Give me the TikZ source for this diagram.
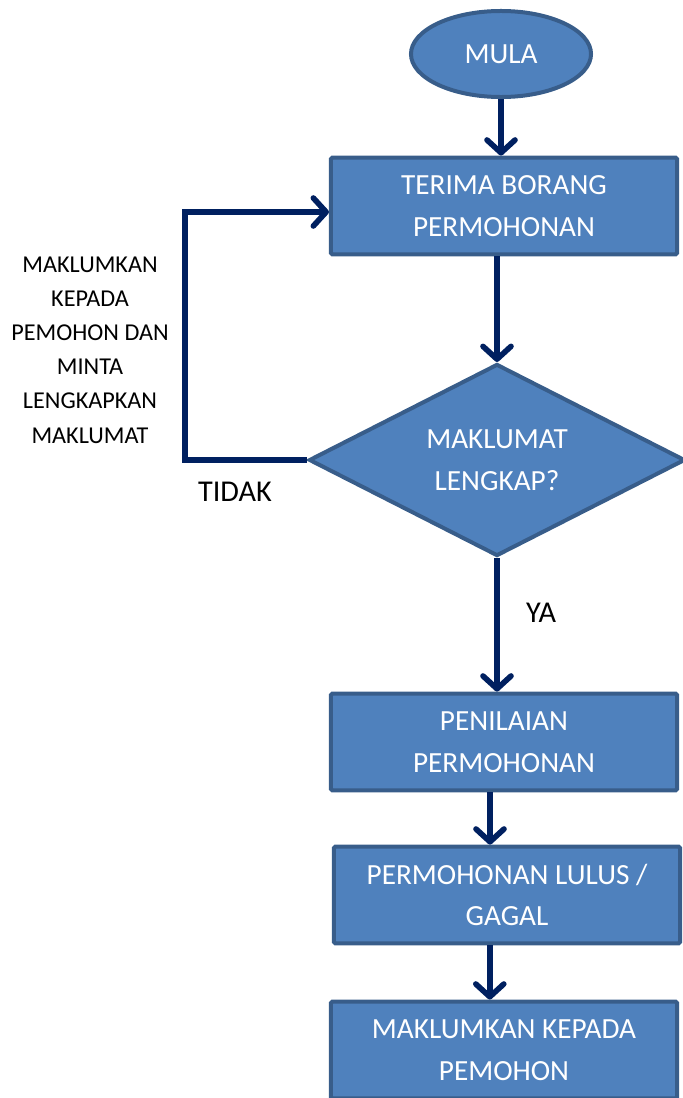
\documentclass[tikz,border=0pt]{standalone}
\usepackage{fontspec}
\setmainfont{Carlito}
\definecolor{BoxBlue}{RGB}{79, 129, 189}
\definecolor{BoxEdge}{RGB}{56, 93, 138}
\definecolor{ArrowNavy}{RGB}{0, 32, 96}
\usepackage{tikz}
\usetikzlibrary{arrows.meta, positioning, shapes.geometric, calc}

\begin{document}
\begin{tikzpicture}[x=0.025cm, y=-0.025cm,
    flowbox/.style={draw=BoxEdge, line width=0.1cm, fill=BoxBlue, text=white, rounded corners=1pt,
        minimum width=8.65cm, minimum height=2.42cm, align=center, inner sep=0pt,
        font=\fontsize{20.8}{29.5}\selectfont},
    flowarrow/.style={line width=0.14cm, ArrowNavy, -{Straight Barb[length=0.32cm, width=0.7cm, round]}}]
    \useasboundingbox (0,0) rectangle (683,1098);

    % Start and process boxes
    \node[ellipse, draw=BoxEdge, line width=0.1cm, fill=BoxBlue, text=white, minimum width=4.5cm,
        minimum height=2.15cm, font=\fontsize{20.8}{29.5}\selectfont] (mula) at (501,54) {MULA};
    \node[flowbox] (terima) at (504,206) {TERIMA BORANG\\PERMOHONAN};
    \node[diamond, draw=BoxEdge, line width=0.1cm, fill=BoxBlue, text=white, aspect=1.9, inner sep=0pt,
        minimum width=9.4cm, minimum height=4.8cm, align=center,
        font=\fontsize{20.8}{29.5}\selectfont] (lengkap) at (497,460) {MAKLUMAT\\LENGKAP?};
    \node[flowbox] (nilai) at (504,742) {PENILAIAN\\PERMOHONAN};
    \node[flowbox] (lulus) at (507,895) {PERMOHONAN LULUS /\\GAGAL};
    \node[flowbox] (maklum) at (504,1050) {MAKLUMKAN KEPADA\\PEMOHON};

    % Main flow
    \draw[flowarrow] (mula.south) -- (mula.south |- terima.north);
    \draw[flowarrow] (lengkap.north |- terima.south) -- (lengkap.north);
    \draw[flowarrow] (lengkap.south) -- (lengkap.south |- nilai.north);
    \draw[flowarrow] ([xshift=-0.35cm]nilai.south) -- ([xshift=-0.35cm]nilai.south |- lulus.north);
    \draw[flowarrow] ([xshift=-0.43cm]lulus.south) -- ([xshift=-0.43cm]lulus.south |- maklum.north);

    % Loop back when incomplete
    \coordinate (balik) at (185,212);
    \draw[flowarrow] (lengkap.west) -| (balik) -- (balik -| terima.west);

    % Labels
    \node[align=center, font=\fontsize{17.2}{24.3}\selectfont] (nota) at (90,350)
        {MAKLUMKAN\\KEPADA\\PEMOHON DAN\\MINTA\\LENGKAPKAN\\MAKLUMAT};
    \node[font=\fontsize{21.5}{24}\selectfont] (tidak) at (235,492) {TIDAK};
    \node[font=\fontsize{21.5}{24}\selectfont] (ya) at (541,613) {YA};
\end{tikzpicture}
\end{document}
